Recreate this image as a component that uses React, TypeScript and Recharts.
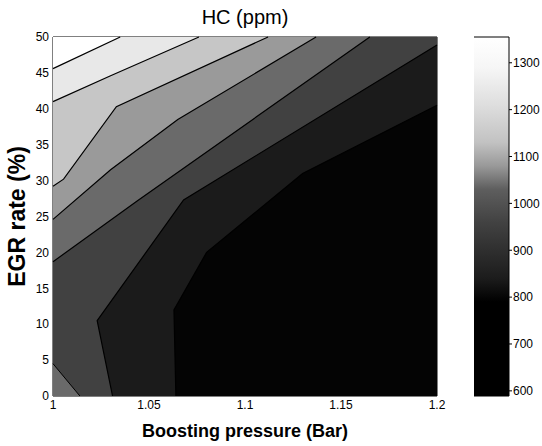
import { ScatterChart, Scatter, XAxis, YAxis, ReferenceArea } from 'recharts'

type Pt = { x: number; y: number }

const X_DOMAIN = [1, 1.2]
const Y_DOMAIN = [0, 50]
const X_TICKS = [1, 1.05, 1.1, 1.15, 1.2]
const Y_TICKS = [0, 5, 10, 15, 20, 25, 30, 35, 40, 45, 50]

// iso-lines of HC (ppm); each runs from the left/bottom edge to the top/right edge,
// higher HC lies on the upper-left side
const HC_700: Pt[] = [
  { x: 1.064, y: 0 }, { x: 1.063, y: 12 }, { x: 1.08, y: 20 }, { x: 1.13, y: 31 }, { x: 1.2, y: 40.5 },
]
const HC_800: Pt[] = [
  { x: 1.031, y: 0 }, { x: 1.023, y: 10.5 }, { x: 1.068, y: 27.3 }, { x: 1.2, y: 48.9 },
]
const HC_900: Pt[] = [{ x: 1, y: 18.7 }, { x: 1.044, y: 27.2 }, { x: 1.165, y: 50 }]
const HC_900_CORNER: Pt[] = [{ x: 1, y: 0 }, { x: 1, y: 4.5 }, { x: 1.014, y: 0 }]
const HC_1000: Pt[] = [{ x: 1, y: 24.6 }, { x: 1.03, y: 31.5 }, { x: 1.065, y: 38.5 }, { x: 1.137, y: 50 }]
const HC_1100: Pt[] = [{ x: 1, y: 29.2 }, { x: 1.0055, y: 30.2 }, { x: 1.033, y: 40.3 }, { x: 1.112, y: 50 }]
const HC_1200: Pt[] = [{ x: 1, y: 41 }, { x: 1.03, y: 44.6 }, { x: 1.076, y: 50 }]
const HC_1300: Pt[] = [{ x: 1, y: 45.6 }, { x: 1.035, y: 50 }]

const CONTOURS = [HC_700, HC_800, HC_900, HC_1000, HC_1100, HC_1200, HC_1300]
// gray of the band below 700, then of each band above the matching contour
const BASE_FILL = '#040404'
const BAND_FILLS = ['#1b1b1b', '#414141', '#6a6a6a', '#9a9a9a', '#c6c6c6', '#e8e8e8', '#ffffff']

// colour bar
const CB_RANGE = [589, 1355]
const CB_TICKS = [600, 700, 800, 900, 1000, 1100, 1200, 1300]
const CB_STOP_VALUES = [589, 790, 840, 960, 1030, 1080, 1130, 1210, 1290, 1355]
const CB_STOP_GRAYS = ['#000', '#000', '#1c1c1c', '#424242', '#5e5e5e', '#999', '#c2c2c2', '#dedede', '#f6f6f6', '#fff']

const FONT = '"Liberation Sans", Arial, Helvetica, sans-serif'

// close a contour through the top-left corner so the polygon covers the higher side
function upperLeft(path: Pt[]): Pt[] {
  const first = path[0]
  const last = path[path.length - 1]
  const pts = [...path]
  if (last.x >= X_DOMAIN[1]) pts.push({ x: X_DOMAIN[1], y: Y_DOMAIN[1] })
  pts.push({ x: X_DOMAIN[0], y: Y_DOMAIN[1] })
  if (first.y <= Y_DOMAIN[0]) pts.push({ x: X_DOMAIN[0], y: Y_DOMAIN[0] })
  return pts
}

const fullField: Pt[] = [
  { x: X_DOMAIN[0], y: Y_DOMAIN[0] },
  { x: X_DOMAIN[1], y: Y_DOMAIN[0] },
  { x: X_DOMAIN[1], y: Y_DOMAIN[1] },
  { x: X_DOMAIN[0], y: Y_DOMAIN[1] },
]

const colorBar: Pt[] = [
  { x: 0, y: CB_RANGE[0] },
  { x: 1, y: CB_RANGE[0] },
  { x: 1, y: CB_RANGE[1] },
  { x: 0, y: CB_RANGE[1] },
]

const NoDot = () => null

const tick = { fill: '#000', fontSize: 12, fontFamily: FONT }

export default function App() {
  return (
    <div style={{ position: 'absolute', left: 0, top: 0, width: 542, height: 446, background: '#fff', fontFamily: FONT }}>
      <svg width={0} height={0} style={{ position: 'absolute' }}>
        <defs>
          <linearGradient id="hcGray" x1="0" y1="1" x2="0" y2="0">
            {CB_STOP_VALUES.map((v, i) => (
              <stop key={v} offset={(v - CB_RANGE[0]) / (CB_RANGE[1] - CB_RANGE[0])} stopColor={CB_STOP_GRAYS[i]} />
            ))}
          </linearGradient>
        </defs>
      </svg>

      <div style={{ position: 'absolute', left: 53, top: 6, width: 384, textAlign: 'center', fontSize: 20, lineHeight: '23px' }}>
        HC (ppm)
      </div>

      <div style={{ position: 'absolute', left: 0, top: 0 }}>
        <ScatterChart width={542} height={446} margin={{ top: 37, right: 105, bottom: 0, left: 0 }}>
          <XAxis
            type="number"
            dataKey="x"
            domain={X_DOMAIN}
            ticks={X_TICKS}
            height={50}
            axisLine={false}
            tickLine={false}
            tickSize={2}
            tickMargin={2}
            tick={tick}
            label={{ value: 'Boosting pressure (Bar)', position: 'insideBottom', offset: 9, style: { fontWeight: 'bold', fontSize: 18, fill: '#000', fontFamily: FONT } }}
          />
          <YAxis
            type="number"
            dataKey="y"
            domain={Y_DOMAIN}
            ticks={Y_TICKS}
            width={53}
            axisLine={false}
            tickLine={false}
            tickSize={2}
            tickMargin={2}
            tick={tick}
            label={{ value: 'EGR rate (%)', angle: -90, position: 'insideLeft', offset: 17, style: { textAnchor: 'middle', fontWeight: 'bold', fontSize: 23, fill: '#000', fontFamily: FONT } }}
          />

          <Scatter data={fullField} shape={NoDot} line={{ fill: BASE_FILL, stroke: 'none' }} isAnimationActive={false} />
          {CONTOURS.map((path, i) => (
            <Scatter
              key={`band-${i}`}
              data={upperLeft(path)}
              shape={NoDot}
              line={{ fill: BAND_FILLS[i], stroke: 'none' }}
              isAnimationActive={false}
            />
          ))}
          <Scatter data={HC_900_CORNER} shape={NoDot} line={{ fill: BAND_FILLS[2], stroke: 'none' }} isAnimationActive={false} />

          {CONTOURS.map((path, i) => (
            <Scatter
              key={`iso-${i}`}
              data={path}
              shape={NoDot}
              line={{ stroke: '#000', strokeWidth: 1.2, fill: 'none' }}
              isAnimationActive={false}
            />
          ))}
          <Scatter data={HC_900_CORNER.slice(1)} shape={NoDot} line={{ stroke: '#000', strokeWidth: 1, fill: 'none' }} isAnimationActive={false} />

          <ReferenceArea x1={X_DOMAIN[0]} x2={X_DOMAIN[1]} y1={Y_DOMAIN[0]} y2={Y_DOMAIN[1]} fill="none" stroke="#000" strokeWidth={1} ifOverflow="visible" />
        </ScatterChart>
      </div>

      {/* colour bar */}
      <div style={{ position: 'absolute', left: 474, top: 0 }}>
        <ScatterChart width={68} height={446} margin={{ top: 37, right: 0, bottom: 50, left: 0 }}>
          <XAxis type="number" dataKey="x" domain={[0, 1]} hide />
          <YAxis
            type="number"
            dataKey="y"
            orientation="right"
            domain={CB_RANGE}
            ticks={CB_TICKS}
            width={33}
            axisLine={false}
            tickSize={3}
            tickMargin={1}
            tickLine={{ stroke: '#000' }}
            tick={tick}
          />
          <Scatter data={colorBar} shape={NoDot} line={{ fill: 'url(#hcGray)', stroke: '#000', strokeWidth: 1 }} isAnimationActive={false} />
        </ScatterChart>
      </div>
    </div>
  )
}
